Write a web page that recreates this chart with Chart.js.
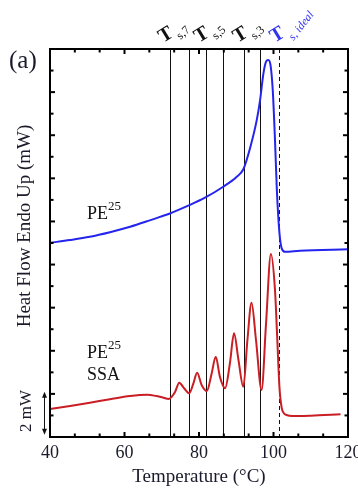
<!DOCTYPE html>
<html>
<head>
<meta charset="utf-8">
<script src="https://cdn.jsdelivr.net/npm/chart.js@4.4.1/dist/chart.umd.min.js"></script>
<style>
  html,body{margin:0;padding:0;background:#fff}
  canvas{display:block}
</style>
</head>
<body>
<canvas id="dsc" width="358" height="488"></canvas>
<script>
// DSC curves: temperature (°C) vs heat flow (mW, relative offset)
const tempBlue = [40,45.4,50.7,56.1,61.5,66.8,69.5,72.2,77.1,81.6,86.5,90,91.9,93.7,95.5,96.4,97.3,98.0,98.6,99.2,99.8,100.4,100.9,101.6,102.2,103.1,107.1,120];
const flowBlue = [9.01,9.14,9.29,9.50,9.75,10.05,10.21,10.37,10.73,11.10,11.61,12.05,12.42,13.4,14.7,15.63,16.87,17.41,17.49,17.25,16.09,13.78,11.46,9.46,8.75,8.59,8.64,8.71];

const tempRed = [40,45.4,50.7,56.1,61.5,66.0,68.6,70.5,71.8,72.6,73.6,74.7,76.0,77.4,78.5,79.5,80.7,82.1,83.4,84.5,85.6,87.0,88.3,89.4,90.6,91.9,93.0,94.1,95.3,96.8,98.0,99.3,100.4,101.0,101.6,102.2,102.8,103.5,105,110,118];
const flowRed = [1.30,1.44,1.59,1.75,1.90,1.96,1.90,1.82,1.76,1.85,2.10,2.52,2.26,2.03,2.49,2.98,2.41,2.13,2.95,3.72,2.80,2.26,3.42,4.81,3.57,2.33,4.50,6.23,4.50,2.18,5.27,8.49,6.82,4.6,2.3,1.35,1.1,1.02,0.97,0.99,1.05];

const xTickLabels = [40,60,80,100,120];
const yTicks = [1,2,3,4,5,6,7,8,9,10,11,12,13,14,15,16,17];
const tsLines = [72.2,77.3,81.8,86.5,92.2,96.4];
const tsIdeal = 101.6;
const tsLabels = [{at:72.2,sub:"s,7"},{at:81.8,sub:"s,5"},{at:92.2,sub:"s,3"}];

const serif = "'Liberation Serif','Times New Roman',serif";
const BLUE = "#2424ee", RED = "#c81e24";

function put(ctx, s, x, y, font, color, ang, align, base){
  ctx.save();
  ctx.translate(x, y);
  if(ang) ctx.rotate(ang);
  ctx.font = font; ctx.fillStyle = color;
  ctx.textAlign = align || "center"; ctx.textBaseline = base || "middle";
  ctx.fillText(s, 0, 0);
  ctx.restore();
}

const decor = {
  id: "decor",
  beforeDatasetsDraw(chart){
    const {ctx, chartArea:a, scales:{x}} = chart;
    ctx.save();
    ctx.strokeStyle = "#111"; ctx.lineWidth = 1;
    tsLines.forEach(v=>{
      const px = Math.round(x.getPixelForValue(v)) + 0.5;
      ctx.beginPath(); ctx.moveTo(px, a.top); ctx.lineTo(px, a.bottom); ctx.stroke();
    });
    ctx.setLineDash([4,3]);
    const pd = Math.round(x.getPixelForValue(tsIdeal)) + 0.5;
    ctx.beginPath(); ctx.moveTo(pd, a.top); ctx.lineTo(pd, a.bottom); ctx.stroke();
    ctx.restore();
  },
  afterDraw(chart){
    const {ctx, chartArea:a, scales:{x, y}} = chart;
    ctx.save();
    // frame
    ctx.strokeStyle = "#000"; ctx.lineWidth = 2;
    ctx.strokeRect(a.left, a.top, a.right - a.left, a.bottom - a.top);
    // inward ticks
    const seg = (x1,y1,x2,y2)=>{ ctx.beginPath(); ctx.moveTo(x1,y1); ctx.lineTo(x2,y2); ctx.stroke(); };
    const xt = [];
    for(let i=0;i<xTickLabels.length-1;i++){
      const p = xTickLabels[i], q = xTickLabels[i+1];
      xt.push({v:p, major:true}, {v:p+(q-p)/3}, {v:p+2*(q-p)/3});
    }
    xt.forEach(t=>{
      if(t.v===xTickLabels[0]) return;
      const px = x.getPixelForValue(t.v), L = t.major ? 5 : 3.5;
      seg(px, a.bottom, px, a.bottom - L);
      seg(px, a.top, px, a.top + L);
    });
    yTicks.forEach(v=>{
      const py = y.getPixelForValue(v), L = v % 2 === 0 ? 5 : 3.5;
      seg(a.left, py, a.left + L, py);
      seg(a.right, py, a.right - L, py);
    });
    ctx.restore();

    // texts
    put(ctx, "(a)", 9, 68, "25px " + serif, "#1a1a2a", 0, "left", "alphabetic");
    put(ctx, "Heat Flow Endo Up (mW)", 25, 226, "19px " + serif, "#1a1a2a", -Math.PI/2);
    put(ctx, "2 mW", 27, 411, "17px " + serif, "#1a1a2a", -Math.PI/2);
    // 2 mW scale arrow
    ctx.save();
    ctx.strokeStyle = "#111"; ctx.fillStyle = "#111"; ctx.lineWidth = 1;
    const ax = 44.5, y1 = y.getPixelForValue(2.1), y2 = y.getPixelForValue(0.1);
    seg(ax, y1 + 3, ax, y2 - 3);
    ctx.beginPath(); ctx.moveTo(ax, y1); ctx.lineTo(ax-2.5, y1+6); ctx.lineTo(ax+2.5, y1+6); ctx.fill();
    ctx.beginPath(); ctx.moveTo(ax, y2); ctx.lineTo(ax-2.5, y2-6); ctx.lineTo(ax+2.5, y2-6); ctx.fill();
    ctx.restore();

    // curve labels
    ctx.save();
    ctx.font = "18px " + serif;
    const pw = ctx.measureText("PE").width;
    ctx.restore();
    put(ctx, "PE", 87, 219, "18px " + serif, "#111", 0, "left", "alphabetic");
    put(ctx, "25", 87 + pw, 210, "13px " + serif, "#111", 0, "left", "alphabetic");
    put(ctx, "PE", 87, 358, "18px " + serif, "#111", 0, "left", "alphabetic");
    put(ctx, "25", 87 + pw, 349, "13px " + serif, "#111", 0, "left", "alphabetic");
    put(ctx, "SSA", 87, 380, "18px " + serif, "#111", 0, "left", "alphabetic");

    // T_s labels above the frame
    tsLabels.forEach(l=>{
      const px = x.getPixelForValue(l.at);
      put(ctx, "T", px - 4, 35, "bold 20px " + serif, "#111", -0.55);
      put(ctx, l.sub, px + 13.5, 33, "12px " + serif, "#111", -0.75);
    });
    const pi = x.getPixelForValue(tsIdeal);
    put(ctx, "T", pi - 2, 35, "bold 20px " + serif, "#3333f2", -0.55);
    put(ctx, "s, ideal", pi + 22, 26, "italic 11.5px " + serif, "#3333f2", -0.9);
  }
};

new Chart(document.getElementById("dsc"), {
  type: "line",
  data: {
    datasets: [
      {label:"PE25", data: tempBlue.map((t,i)=>({x:t, y:flowBlue[i]})), borderColor: BLUE, borderWidth: 2,
       pointRadius: 0, cubicInterpolationMode: "monotone", fill: false},
      {label:"PE25 SSA", data: tempRed.map((t,i)=>({x:t, y:flowRed[i]})), borderColor: RED, borderWidth: 2,
       pointRadius: 0, cubicInterpolationMode: "monotone", fill: false}
    ]
  },
  options: {
    responsive: false,
    animation: false,
    devicePixelRatio: 1,
    layout: {padding: {left: 50, right: 10, top: 49, bottom: 0}},
    plugins: {legend: {display: false}, tooltip: {enabled: false}},
    scales: {
      x: {
        type: "linear", min: 40, max: 120,
        afterBuildTicks: s => { s.ticks = xTickLabels.map(v => ({value: v})); },
        afterFit: s => { s.height = 51; s.paddingLeft = 0; s.paddingRight = 0; },
        grid: {display: false, drawTicks: false},
        border: {display: false},
        ticks: {font: {family: serif, size: 18}, color: "#1a1a2a", padding: 5, maxRotation: 0, autoSkip: false},
        title: {display: true, text: "Temperature (°C)", font: {family: serif, size: 19}, color: "#1a1a2a", padding: 0}
      },
      y: {type: "linear", min: 0, max: 18, display: false}
    }
  },
  plugins: [decor]
});
</script>
</body>
</html>
